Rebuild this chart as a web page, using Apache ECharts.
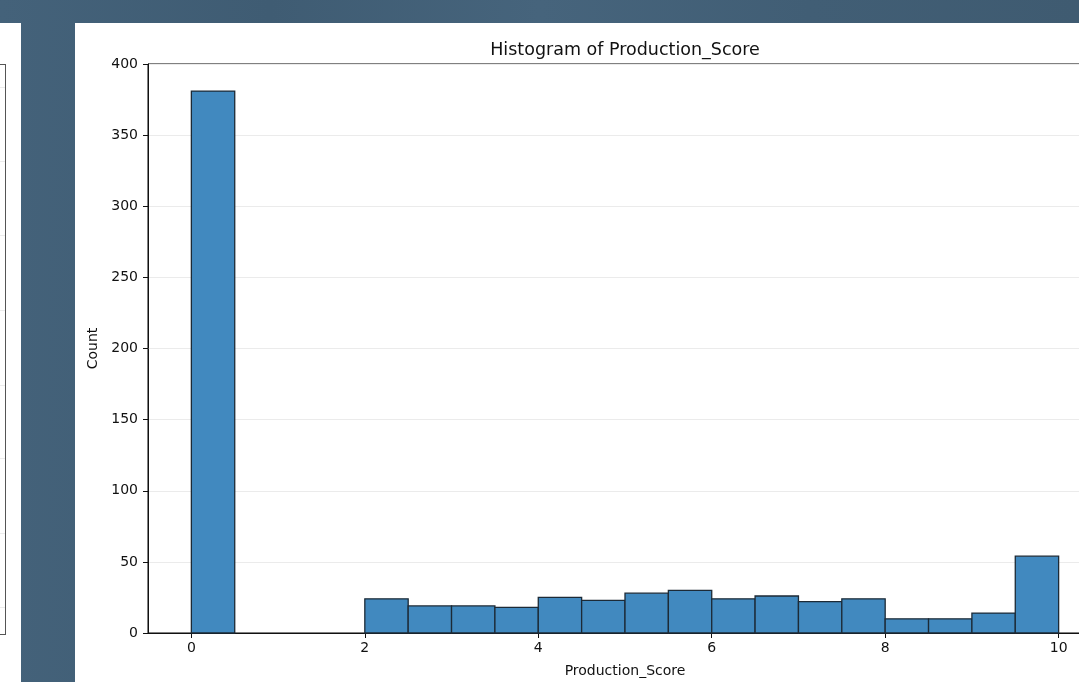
<!DOCTYPE html>
<html>
<head>
<meta charset="utf-8">
<script src="https://cdn.jsdelivr.net/npm/echarts@6/dist/echarts.min.js"></script>
<style>
  html, body { margin: 0; padding: 0; width: 1079px; height: 682px; overflow: hidden; }
  body {
    position: relative;
    background: linear-gradient(90deg, #44627a 0%, #3f5c73 25%, #46647c 50%, #415e75 75%, #3f5b71 100%);
  }
  #side { position: absolute; left: 0; top: 23px; width: 21px; height: 659px; background: #fff; }
  #side .frame { position: absolute; left: 0; top: 41px; width: 5px; height: 569px;
                 border-top: 1px solid #555; border-bottom: 1px solid #555; border-right: 1px solid #555; }
  #side .gl { position: absolute; left: 0; width: 5px; height: 1px; background: #ececec; }
  #chart { position: absolute; left: 75px; top: 23px; width: 1100px; height: 659px; background: #fff; }
</style>
</head>
<body>
<div id="side"><div class="frame"></div></div>
<div id="chart"></div>
<script>
// Histogram bins (left/right edges) and counts per bin
const binLeft  = [0, 0.5, 1, 1.5, 2, 2.5, 3, 3.5, 4, 4.5, 5, 5.5, 6, 6.5, 7, 7.5, 8, 8.5, 9, 9.5];
const binRight = [0.5, 1, 1.5, 2, 2.5, 3, 3.5, 4, 4.5, 5, 5.5, 6, 6.5, 7, 7.5, 8, 8.5, 9, 9.5, 10];
const counts   = [381, 0, 0, 0, 24, 19, 19, 18, 25, 23, 28, 30, 24, 26, 22, 24, 10, 10, 14, 54];
const xTicks   = [0, 2, 4, 6, 8, 10];

// faint grid lines of the neighbouring panel
const sideGrid = [87, 161, 235, 310, 385, 458, 533, 607];
const side = document.getElementById('side');
sideGrid.forEach(function (y) {
  const d = document.createElement('div');
  d.className = 'gl';
  d.style.top = (y - 23) + 'px';
  side.appendChild(d);
});

const data = binLeft.map(function (l, i) { return [l, binRight[i], counts[i]]; });

const chart = echarts.init(document.getElementById('chart'), null, { renderer: 'canvas' });
const font = 'DejaVu Sans';
chart.setOption({
  animation: false,
  backgroundColor: '#fff',
  title: {
    text: 'Histogram of Production_Score',
    left: 'center',
    top: 13,
    textStyle: { fontFamily: font, fontSize: 17.5, fontWeight: 'normal', color: '#111' }
  },
  grid: {
    left: 73, right: 73, top: 41, bottom: 49,
    outerBoundsMode: 'none',
    containLabel: false,
    show: true, borderColor: '#000', borderWidth: 1
  },
  xAxis: {
    type: 'value',
    min: -0.5, max: 10.5,
    name: 'Production_Score',
    nameLocation: 'middle',
    nameGap: 31,
    nameTextStyle: { fontFamily: font, fontSize: 14, color: '#111' },
    axisLine: { show: true, onZero: false, lineStyle: { color: '#111', width: 1 } },
    axisTick: { show: true, length: 5, customValues: xTicks, lineStyle: { color: '#111' } },
    axisLabel: { customValues: xTicks, margin: 8, fontFamily: font, fontSize: 14, color: '#111' },
    splitLine: { show: false }
  },
  yAxis: {
    type: 'value',
    min: 0, max: 400, interval: 50,
    name: 'Count',
    nameLocation: 'middle',
    nameGap: 41,
    nameTextStyle: { fontFamily: font, fontSize: 14, color: '#111' },
    axisLine: { show: true, onZero: false, lineStyle: { color: '#111', width: 1 } },
    axisTick: { show: true, inside: false, length: 5, lineStyle: { color: '#111' } },
    axisLabel: { margin: 10, fontFamily: font, fontSize: 14, color: '#111' },
    splitLine: { show: true, lineStyle: { color: '#ebebeb', width: 1 } }
  },
  series: [{
    type: 'custom',
    data: data,
    encode: { x: [0, 1], y: 2 },
    renderItem: function (params, api) {
      const c = api.value(2);
      if (!c) return null;
      const p0 = api.coord([api.value(0), c]);
      const p1 = api.coord([api.value(1), 0]);
      return {
        type: 'rect',
        shape: { x: p0[0], y: p0[1], width: p1[0] - p0[0], height: p1[1] - p0[1] },
        style: { fill: '#4189bf', stroke: '#1c2a36', lineWidth: 1.3 }
      };
    }
  }]
});
</script>
</body>
</html>
